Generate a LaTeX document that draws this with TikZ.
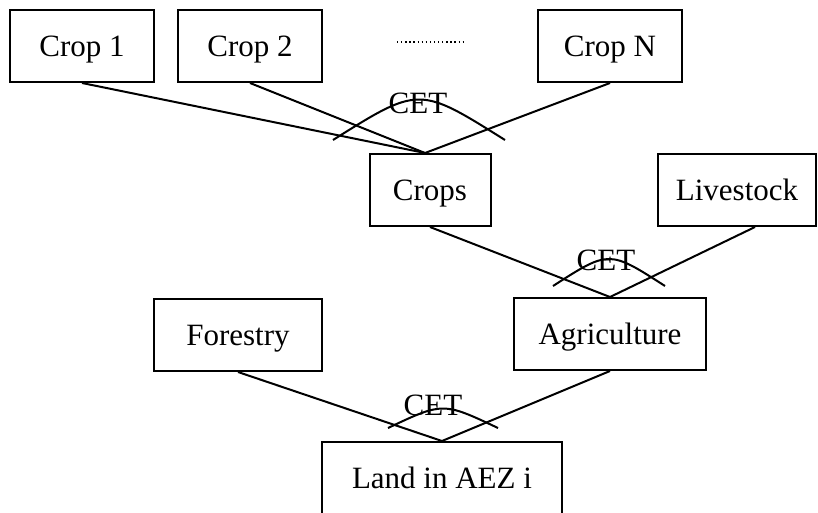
\documentclass[tikz,border=0pt]{standalone}
\usepackage{fontspec}
\setmainfont{Liberation Serif}
\usetikzlibrary{calc}
\begin{document}
\begin{tikzpicture}[x=1pt,y=-1pt,line width=2pt,
    box/.style={draw,rectangle,minimum height=72pt,inner sep=0pt,text height=21pt,text depth=0pt,font=\fontsize{31}{36}\selectfont},
    cet/.style={anchor=base,inner sep=0pt,font=\fontsize{31}{36}\selectfont}]
        \useasboundingbox (0,0) rectangle (818,512);
        \node[box,minimum width=144pt](crop1)at(82,46){Crop 1};
        \node[box,minimum width=144pt](crop2)at(250,46){Crop 2};
        \node[box,minimum width=144pt](cropn)at(610,46){Crop N};
        \draw[line width=1.3pt,dash pattern=on 1.3pt off 2.8pt](397,42)--(463,42);
        \node[box,minimum width=121pt](crops)at(430,190){Crops};
        \node[box,minimum width=158pt](live)at(737,190){Livestock};
        \node[box,minimum width=168pt](forest)at(238,335){Forestry};
        \node[box,minimum width=192pt](agri)at(610,334){Agriculture};
        \node[box,minimum width=240pt](land)at(442,478){Land in AEZ i};
        \draw(crop1.south)--($(crops.north)+(-5,0)$);
        \draw(crop2.south)--($(crops.north)+(-5,0)$);
        \draw(cropn.south)--($(crops.north)+(-5,0)$);
        \draw(crops.south)--(agri.north);
        \draw($(live.south)+(18,0)$)--(agri.north);
        \draw(forest.south)--(land.north);
        \draw(agri.south)--(land.north);
        \draw(333,140) .. controls (419,86) .. (505,140);
        \draw(553,286) .. controls (609,250) .. (665,286);
        \draw(388,428) .. controls (443,402) .. (498,428);
        \node[cet](cet1)at(418,113){CET};
        \node[cet](cet2)at(606,270){CET};
        \node[cet](cet3)at(433,415){CET};
    \end{tikzpicture}
\end{document}
